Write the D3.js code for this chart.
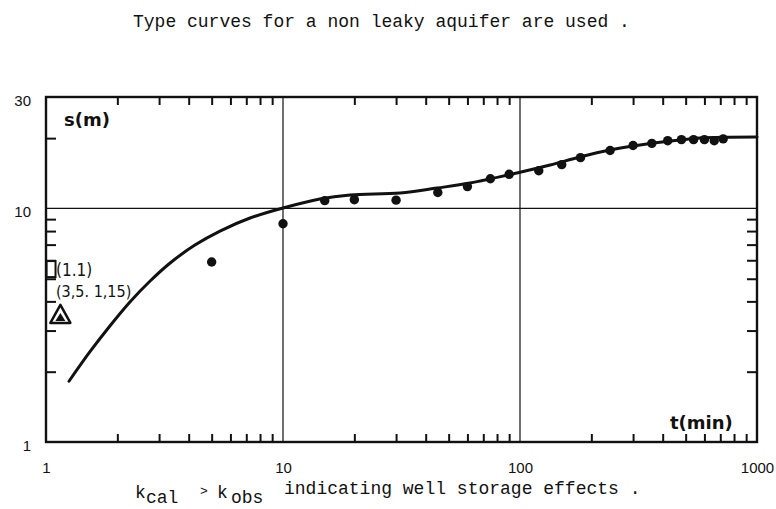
<!DOCTYPE html>
<html><head><meta charset="utf-8">
<script src="https://cdn.jsdelivr.net/npm/d3@7"></script>
<style>
html,body{margin:0;padding:0;background:#fff;}
svg{display:block;}
</style></head>
<body>
<svg id="chart" width="776" height="509"></svg>
<script>
// ---- data ----
const titleText = "Type curves for a non leaky aquifer are used .";
const xTickValues = [1, 10, 100, 1000];
const yTickValues = [1, 10, 30];
const xMinorTicks = [2,3,4,5,6,7,8,9,20,30,40,50,60,70,80,90,200,300,400,500,600,700,800,900];
const yMinorLeft = [2,3,4,5,6,7,8,9,20];
const yMinorRight = [2,3,4,5,6,7,8,9];
const gridX = [10, 100];
const gridY = [10];
// observed drawdown points: time (min), drawdown (m)
const obsTime = [5, 10, 15, 20, 30, 45, 60, 75, 90, 120, 150, 180, 240, 300, 360, 420, 480, 540, 600, 660, 720];
const obsDrawdown = [5.9, 8.6, 10.8, 10.9, 10.85, 11.7, 12.4, 13.4, 14.0, 14.5, 15.4, 16.5, 17.7, 18.6, 19.0, 19.5, 19.7, 19.7, 19.7, 19.5, 19.85];
// fitted type curve
const curveTime = [1.25, 1.53, 1.86, 2.26, 2.75, 3.34, 4.25, 5.42, 7.26, 10, 14.3, 19.2, 31.2, 44.7, 61.5, 97, 134, 179, 240, 321, 473, 575, 1000];
const curveDrawdown = [1.82, 2.43, 3.14, 3.98, 4.89, 5.84, 6.97, 8.00, 9.10, 10.04, 10.97, 11.41, 11.64, 12.23, 12.84, 14.18, 15.34, 16.6, 17.78, 18.68, 19.63, 20.02, 20.2];
// match points
const matchLabels = ["(1.1)", "(3,5. 1,15)"];
const squarePoint = [1.05, 5.5];
const trianglePoint = [1.15, 3.5];

// ---- drawing ----
const svg = d3.select("#chart");
const x = d3.scaleLog().domain([1, 1000]).range([46, 757]);
const y = d3.scaleLog().domain([1, 30]).range([442, 97]);
const [x0, x1] = x.range();
const [y0, y1] = y.range();
const mono = "Liberation Mono, Courier New, monospace";

svg.append("text").attr("x", 133).attr("y", 27)
  .attr("font-family", mono).attr("font-size", 18)
  .attr("fill", "#111").text(titleText);

// grid lines
svg.append("g").selectAll("line").data(gridX).join("line")
  .attr("x1", d => x(d)).attr("x2", d => x(d)).attr("y1", y1).attr("y2", y0)
  .attr("stroke", "#111").attr("stroke-width", 1.2);
svg.append("g").selectAll("line").data(gridY).join("line")
  .attr("x1", x0).attr("x2", x1).attr("y1", d => y(d)).attr("y2", d => y(d))
  .attr("stroke", "#111").attr("stroke-width", 1.2);

// minor ticks (inward)
function styleAxis(g){
  g.select(".domain").remove();
  g.selectAll(".tick line").attr("stroke", "#111").attr("stroke-width", 2);
  g.selectAll(".tick text").remove();
}
svg.append("g").attr("transform", `translate(0,${y0})`)
  .call(d3.axisBottom(x).tickValues(xMinorTicks).tickSize(-8)).call(styleAxis);
svg.append("g").attr("transform", `translate(0,${y1})`)
  .call(d3.axisTop(x).tickValues(xMinorTicks).tickSize(-8)).call(styleAxis);
svg.append("g").attr("transform", `translate(${x0},0)`)
  .call(d3.axisLeft(y).tickValues(yMinorLeft).tickSize(-10)).call(styleAxis);
svg.append("g").attr("transform", `translate(${x1},0)`)
  .call(d3.axisRight(y).tickValues(yMinorRight).tickSize(-10)).call(styleAxis);

// frame
svg.append("rect").attr("x", x0).attr("y", y1).attr("width", x1 - x0).attr("height", y0 - y1)
  .attr("fill", "none").attr("stroke", "#111").attr("stroke-width", 2.4);

// tick labels
const labFont = "Liberation Sans, Arial, sans-serif";
const xLab = svg.append("g").attr("transform", `translate(0,${y0})`)
  .call(d3.axisBottom(x).tickValues(xTickValues).tickSize(0).tickPadding(20).tickFormat(d3.format("d")));
xLab.select(".domain").remove();
xLab.selectAll("text").attr("font-family", labFont).attr("font-size", 15).attr("fill", "#111");
const yLab = svg.append("g").attr("transform", `translate(${x0},0)`)
  .call(d3.axisLeft(y).tickValues(yTickValues).tickSize(0).tickPadding(15).tickFormat(d3.format("d")));
yLab.select(".domain").remove();
yLab.selectAll("text").attr("font-family", labFont).attr("font-size", 15).attr("fill", "#111").attr("dy", "0.55em");

// axis titles
svg.append("text").attr("x", 64).attr("y", 126)
  .attr("font-family", "DejaVu Sans, sans-serif").attr("font-weight", "bold").attr("font-size", 18)
  .attr("fill", "#111").text("s(m)");
svg.append("text").attr("x", 670).attr("y", 429)
  .attr("font-family", "DejaVu Sans, sans-serif").attr("font-weight", "bold").attr("font-size", 18)
  .attr("fill", "#111").text("t(min)");

// fitted curve
const line = d3.line().x(d => x(d[0])).y(d => y(d[1])).curve(d3.curveCatmullRom.alpha(0.5));
svg.append("path").datum(d3.zip(curveTime, curveDrawdown))
  .attr("d", line).attr("fill", "none").attr("stroke", "#111").attr("stroke-width", 3)
  .attr("stroke-linecap", "round");

// observed points
svg.append("g").selectAll("circle").data(d3.zip(obsTime, obsDrawdown)).join("circle")
  .attr("cx", d => x(d[0])).attr("cy", d => y(d[1])).attr("r", 4.7).attr("fill", "#111");

// match point markers
const sq = [x(squarePoint[0]), y(squarePoint[1])];
svg.append("rect").attr("x", sq[0] - 4.5).attr("y", sq[1] - 8).attr("width", 9).attr("height", 16)
  .attr("fill", "none").attr("stroke", "#111").attr("stroke-width", 2);
const tr = [x(trianglePoint[0]), y(trianglePoint[1])];
svg.append("path").attr("d", `M${tr[0]},${tr[1]-10} L${tr[0]+10},${tr[1]+8} L${tr[0]-10},${tr[1]+8} Z`)
  .attr("fill", "none").attr("stroke", "#111").attr("stroke-width", 2.5).attr("stroke-linejoin", "round");
svg.append("path").attr("d", `M${tr[0]},${tr[1]-2} L${tr[0]+5},${tr[1]+6} L${tr[0]-5},${tr[1]+6} Z`)
  .attr("fill", "#111");
const annFont = "DejaVu Sans Condensed, DejaVu Sans, sans-serif";
svg.append("text").attr("x", 56).attr("y", 276).attr("font-family", annFont).attr("font-size", 17)
  .attr("fill", "#111").text(matchLabels[0]);
svg.append("text").attr("x", 56).attr("y", 297).attr("font-family", annFont).attr("font-size", 16)
  .attr("fill", "#111").text(matchLabels[1]);

// caption
const cap = svg.append("text").attr("y", 498)
  .attr("font-family", mono).attr("font-size", 18).attr("fill", "#111");
cap.append("tspan").attr("x", 135).text("k");
cap.append("tspan").attr("x", 146).attr("dy", 5).text("cal");
cap.append("tspan").attr("x", 200).attr("dy", -8).attr("font-size", 13).text(">");
cap.append("tspan").attr("x", 217).attr("dy", 3).text("k");
cap.append("tspan").attr("x", 231).attr("dy", 5).text("obs");
cap.append("tspan").attr("x", 284).attr("dy", -9).text("indicating well storage effects .");
</script>
</body></html>
